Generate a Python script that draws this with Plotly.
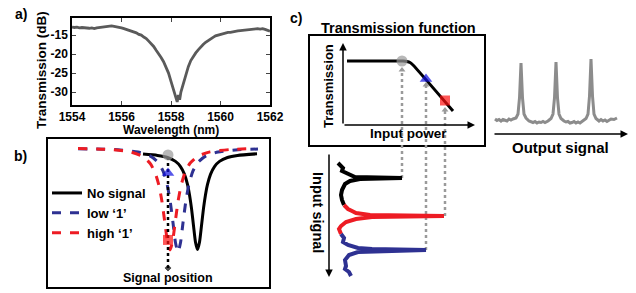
import plotly.graph_objects as go

W, H = 636, 293
FONT = "Arial, 'Liberation Sans', sans-serif"

# ---------------- panel a: measured transmission ----------------
wavelength_nm = [1554.0, 1554.1, 1554.2, 1554.3, 1554.4, 1554.5, 1554.6, 1554.7, 1554.8, 1554.9,
                 1555.0, 1555.1, 1555.2, 1555.3, 1555.4, 1555.5, 1555.6, 1555.7, 1555.8, 1555.9,
                 1556.0, 1556.1, 1556.2, 1556.3, 1556.4, 1556.5, 1556.6, 1556.7, 1556.8, 1556.9,
                 1557.0, 1557.1, 1557.2, 1557.3, 1557.4, 1557.5, 1557.6, 1557.7, 1557.8, 1557.9,
                 1558.0, 1558.1, 1558.15, 1558.2, 1558.25, 1558.3, 1558.35, 1558.4, 1558.5, 1558.6,
                 1558.7, 1558.8, 1558.9, 1559.0, 1559.1, 1559.2, 1559.3, 1559.4, 1559.5, 1559.6,
                 1559.7, 1559.8, 1559.9, 1560.0, 1560.1, 1560.2, 1560.3, 1560.4, 1560.5, 1560.6,
                 1560.7, 1560.8, 1560.9, 1561.0, 1561.1, 1561.2, 1561.3, 1561.4, 1561.5, 1561.6,
                 1561.7, 1561.8, 1561.9, 1562.0]
transmission_db = [-12.9, -13.0, -12.9, -13.1, -13.0, -13.1, -13.0, -13.2, -13.1, -13.3,
                   -13.1, -13.0, -12.9, -12.8, -12.7, -12.7, -12.6, -12.7, -12.8, -12.9,
                   -13.1, -13.3, -13.5, -13.8, -13.9, -14.2, -14.4, -14.8, -15.0, -15.5,
                   -15.9, -16.6, -17.2, -18.0, -19.0, -19.8, -20.9, -22.0, -23.3, -25.0,
                   -27.2, -29.5, -31.0, -32.0, -32.6, -30.8, -32.0, -30.0, -27.5, -25.2,
                   -23.3, -21.7, -20.6, -19.7, -18.9, -18.1, -17.5, -16.9, -16.4, -15.9,
                   -15.6, -15.2, -15.0, -14.8, -14.6, -14.5, -14.3, -14.3, -14.1, -14.0,
                   -13.9, -13.8, -13.7, -13.6, -13.5, -13.4, -13.4, -13.3, -13.3, -13.4,
                   -13.3, -13.5, -13.7, -14.0]
wl_ticks = [1554, 1556, 1558, 1560, 1562]
db_ticks = [-15, -20, -25, -30]
db_tick_labels = ["-15", "-20", "-25", "-30"]

# ---------------- panel b: resonance shift (schematic) ----------------
nosig_x = [-25, -10.5, -0.5, 7.5, 12.5, 16.5, 19.5, 21.5, 23.5, 25.5, 27.5, 29.5,
           31.5, 33.5, 35.5, 37.5, 39.5, 42.5, 46.5, 51.5, 59.5, 69.5, 89]
nosig_t = [0.898, 0.889, 0.875, 0.849, 0.814, 0.761, 0.693, 0.624, 0.531, 0.415, 0.303, 0.253,
           0.303, 0.415, 0.531, 0.624, 0.693, 0.761, 0.814, 0.849, 0.875, 0.889, 0.900]
low_x = [-90, -50, -30, -18, -10, -5, -1, 2, 5, 7.5, 10, 12.5, 15, 18, 21, 25, 30, 38, 50, 70, 90]
low_t = [0.934, 0.927, 0.912, 0.886, 0.843, 0.784, 0.696, 0.588, 0.434, 0.299, 0.236,
         0.299, 0.434, 0.588, 0.696, 0.784, 0.843, 0.886, 0.912, 0.927, 0.932]
high_x = [-90, -58, -38, -26, -18, -13, -9, -6, -3, -0.5, 2, 4.5, 7, 10, 13, 17, 22, 30, 42, 62, 80]
high_t = [0.936, 0.929, 0.913, 0.884, 0.836, 0.774, 0.684, 0.576, 0.428, 0.305, 0.250,
          0.305, 0.428, 0.576, 0.684, 0.774, 0.836, 0.884, 0.913, 0.929, 0.934]
signal_pos = 0
sig_line_t = [0.128, 0.87]
b_marker_t = {"circle": 0.892, "triangle": 0.770, "square": 0.318}

# ---------------- panel c: transmission function ----------------
tf_power = [4, 60, 64, 67, 70, 110]
tf_trans = [64, 64, 63.5, 62.5, 60, 14]
op_power = [59, 83, 102]          # grey / blue / red operating points
op_trans = [64, 46, 24.5]

# input signal traces (amplitude vs. time, time runs downward)
in_black_p = [-5, -2, 0, -1, 3, 6, 12, 59, 17, 7, 2, -1, -2, -1, 1]
in_black_t = [13, 16, 18, 21, 23, 25, 27, 28, 29, 31, 34, 40, 45, 50, 55]
in_red_p = [1, 5, 9, 13, 27, 101, 29, 13, 3, -2, -4, -3, -2]
in_red_t = [55, 59, 61, 63, 65, 66, 67, 69, 72, 76, 79, 81, 84]
in_blue_p = [-2, 1, 0, 5, 15, 29, 83, 29, 15, 6, 2, 3, 2, 6, 8]
in_blue_t = [84, 88, 92, 95, 98, 99, 100, 101, 102, 105, 110, 116, 119, 122, 126]
tip_time = [28, 100, 66]          # time of the peak of each input pulse
guide_top = [-80, -65, -40]       # where dotted guides end below the operating points

# output signal
out_time = [2, 4, 6, 8, 10, 12, 14, 16, 18, 20, 23, 25, 26.5, 28, 29.5, 31, 33, 36, 38, 40, 42, 44,
            46, 48, 50, 52, 55, 58, 60, 61.5, 63, 64.5, 66, 68, 71, 73, 75, 77, 79, 81, 83, 85,
            87, 90, 93, 95, 96.5, 98, 99.5, 101, 103, 106, 108, 110, 112, 114, 116, 118, 121, 124]
out_amp = [15, 13.5, 14.5, 13, 14.5, 13.5, 13, 15, 14, 15, 16, 20, 36, 71, 36, 20, 16, 13, 12.5, 11.5,
           12.5, 11, 12, 11.5, 12.5, 11.5, 13, 15.5, 20, 36, 72, 36, 20, 15.5, 13, 12, 12.5, 11, 11.5,
           12.5, 11, 12, 11, 13, 15.5, 20, 38, 75, 38, 20, 15.5, 13, 14.5, 13, 14, 12.5, 14, 15, 14.5, 16]

# ---------------- colours ----------------
BLUE_LINE = "#2e3192"
RED_LINE = "#ed1c24"
GREY_MK = "#9a9a9a"
BLUE_MK = "#1010e0"
RED_MK = "#ff1010"


def pxx(x):
    return x / W


def pxy(y):
    return 1 - y / H


def bold(size):
    return dict(family=FONT, size=size, color="black", weight="bold")


fig = go.Figure()

# panel a
fig.add_trace(go.Scatter(x=wavelength_nm, y=transmission_db, mode="lines",
                         line=dict(color="#5a5a5a", width=2.8), xaxis="x", yaxis="y",
                         showlegend=False, hoverinfo="skip"))

# panel b curves
fig.add_trace(go.Scatter(x=nosig_x, y=nosig_t, mode="lines", name="No signal",
                         line=dict(color="black", width=3, shape="spline", smoothing=0.6),
                         xaxis="x2", yaxis="y2"))
fig.add_trace(go.Scatter(x=low_x, y=low_t, mode="lines", name="low \u20181\u2019",
                         line=dict(color=BLUE_LINE, width=3, dash="dash", shape="spline", smoothing=0.6),
                         xaxis="x2", yaxis="y2"))
fig.add_trace(go.Scatter(x=high_x, y=high_t, mode="lines", name="high \u20181\u2019",
                         line=dict(color=RED_LINE, width=3, dash="dash", shape="spline", smoothing=0.6),
                         xaxis="x2", yaxis="y2"))
fig.add_trace(go.Scatter(x=[signal_pos, signal_pos], y=sig_line_t, mode="lines+markers",
                         line=dict(color="black", width=2.5, dash="dot"),
                         marker=dict(symbol=["diamond", "circle"], size=[6, 0], color="black"),
                         xaxis="x2", yaxis="y2", showlegend=False, hoverinfo="skip"))
fig.add_trace(go.Scatter(x=[signal_pos] * 3,
                         y=[b_marker_t["circle"], b_marker_t["triangle"], b_marker_t["square"]],
                         mode="markers",
                         marker=dict(symbol=["circle", "triangle-up", "square"], size=[11, 11, 10],
                                     color=[GREY_MK, BLUE_MK, RED_MK], line=dict(width=0)),
                         xaxis="x2", yaxis="y2", showlegend=False, hoverinfo="skip"))

# panel c: transmission function
fig.add_trace(go.Scatter(x=tf_power, y=tf_trans, mode="lines",
                         line=dict(color="black", width=3, shape="spline", smoothing=0.5),
                         xaxis="x3", yaxis="y3", showlegend=False, hoverinfo="skip"))

# dotted guides (in input-signal axes, sharing the power scale)
for p, tb, tt in zip(op_power, tip_time, guide_top):
    fig.add_trace(go.Scatter(x=[p, p], y=[tb, tt], mode="lines",
                             line=dict(color="#9a9a9a", width=2.5, dash="dot"),
                             xaxis="x4", yaxis="y4", showlegend=False, hoverinfo="skip"))
fig.add_trace(go.Scatter(x=op_power, y=guide_top, mode="markers",
                         marker=dict(symbol="triangle-up", size=6, color="#9a9a9a"),
                         xaxis="x4", yaxis="y4", showlegend=False, hoverinfo="skip"))

fig.add_trace(go.Scatter(x=op_power, y=op_trans, mode="markers",
                         marker=dict(symbol=["circle", "triangle-up", "square"], size=[11, 11, 10],
                                     color=[GREY_MK, BLUE_MK, RED_MK], line=dict(width=0)),
                         xaxis="x3", yaxis="y3", showlegend=False, hoverinfo="skip"))

# input signal traces
for xs, ys, col in [(in_black_p, in_black_t, "black"), (in_red_p, in_red_t, RED_LINE),
                    (in_blue_p, in_blue_t, BLUE_LINE)]:
    fig.add_trace(go.Scatter(x=xs, y=ys, mode="lines", line=dict(color=col, width=4),
                             xaxis="x4", yaxis="y4", showlegend=False, hoverinfo="skip"))

# output signal
fig.add_trace(go.Scatter(x=out_time, y=out_amp, mode="lines", line=dict(color="#8c8c8c", width=3),
                         xaxis="x5", yaxis="y5", showlegend=False, hoverinfo="skip"))

hidden = dict(visible=False, showgrid=False, zeroline=False, automargin=False)
common = dict(automargin=False, showgrid=False, zeroline=False)

fig.update_layout(
    template="none",
    width=W, height=H, margin=dict(l=0, r=0, t=0, b=0, pad=0, autoexpand=False),
    paper_bgcolor="white", plot_bgcolor="rgba(0,0,0,0)",
    font=dict(family=FONT, color="black"),
    xaxis=dict(domain=[pxx(72), pxx(270)], anchor="y", range=[1554, 1562], tickvals=wl_ticks,
               ticks="inside", ticklen=4, tickwidth=1, showline=True, mirror="ticks",
               linecolor="black", linewidth=1.5, tickfont=bold(12), ticklabelstandoff=0, **common),
    yaxis=dict(domain=[pxy(105), pxy(18)], anchor="x", range=[-33.4, -10.5], tickvals=db_ticks,
               ticktext=db_tick_labels,
               ticks="inside", ticklen=4, tickwidth=1, showline=True, mirror="ticks",
               linecolor="black", linewidth=1.5, tickfont=bold(12), **common),
    xaxis2=dict(domain=[pxx(48), pxx(269)], anchor="y2", range=[-120, 101], showline=True,
                mirror=True, linecolor="black", linewidth=2, showticklabels=False, ticks="", **common),
    yaxis2=dict(domain=[pxy(287), pxy(139)], anchor="x2", range=[0, 1], showline=True,
                mirror=True, linecolor="black", linewidth=2, showticklabels=False, ticks="", **common),
    xaxis3=dict(domain=[pxx(310), pxx(484)], anchor="y3", range=[-33, 141], showline=True,
                mirror=True, linecolor="black", linewidth=1.5, showticklabels=False, ticks="", **common),
    yaxis3=dict(domain=[pxy(145), pxy(36)], anchor="x3", range=[-20, 89], showline=True,
                mirror=True, linecolor="black", linewidth=1.5, showticklabels=False, ticks="", **common),
    xaxis4=dict(domain=[pxx(310), pxx(484)], anchor="y4", range=[-33, 141], **hidden),
    yaxis4=dict(domain=[pxy(285), pxy(36)], anchor="x4", range=[135, -114], **hidden),
    xaxis5=dict(domain=[pxx(488), pxx(636)], anchor="y5", range=[-5, 143], **hidden),
    yaxis5=dict(domain=[pxy(140), pxy(40)], anchor="x5", range=[-6, 94], **hidden),
    legend=dict(x=pxx(47), y=pxy(178), xanchor="left", yanchor="top", bgcolor="rgba(0,0,0,0)",
                borderwidth=0, font=bold(13), itemwidth=30, tracegroupgap=0),
    showlegend=True,
)

ann = []


def txt(text, x, y, size, angle=0):
    ann.append(dict(text=text, x=pxx(x), y=pxy(y), xref="paper", yref="paper", showarrow=False,
                    font=bold(size), textangle=angle, xanchor="center", yanchor="middle"))


txt("a)", 21, 14, 14)
txt("b)", 20, 156, 14)
txt("c)", 296, 18, 14)
txt("Transmission (dB)", 41, 70, 13.5, -90)
txt("Wavelength (nm)", 171, 130, 12)
txt("Signal position", 168, 278, 12.5)
txt("Transmission function", 398, 28, 14.5)
txt("Transmission", 329, 86, 13, -90)
txt("Input power", 408, 133, 13.5)
txt("Input signal", 318, 212, 14.5, 90)
txt("Output signal", 560, 147, 15)


def arrow(xr, yr, x, y, ax, ay):
    ann.append(dict(x=x, y=y, ax=ax, ay=ay, xref=xr, yref=yr, axref=xr, ayref=yr, text="",
                    showarrow=True, arrowhead=2, arrowsize=1, arrowwidth=1.5, arrowcolor="black"))


arrow("x3", "y3", 0, 82, 0, 0)
arrow("x3", "y3", 132, 0, 0, 0)
arrow("x4", "y4", -14, 127, -14, 3)
arrow("x5", "y5", 135, 0, 0, 0)

fig.update_layout(annotations=ann)

fig.write_html("out.html", config={"displayModeBar": False},
               post_script="document.body.style.margin='0px';document.body.style.overflow='hidden';")
